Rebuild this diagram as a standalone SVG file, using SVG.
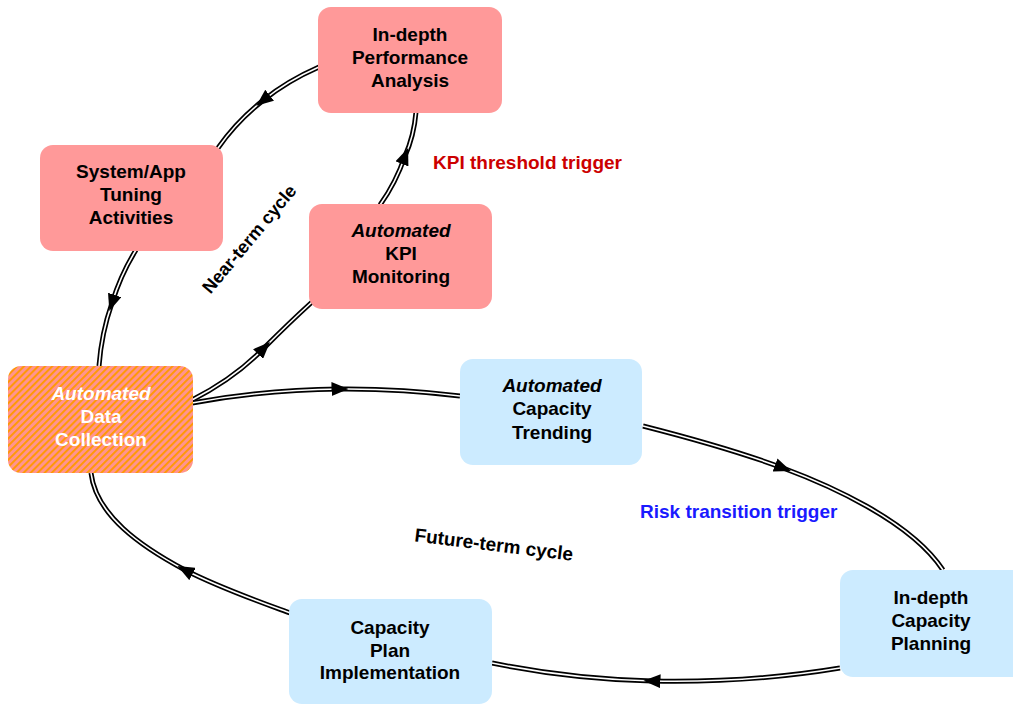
<svg xmlns="http://www.w3.org/2000/svg" width="1013" height="705" viewBox="0 0 1013 705">
<style>
.pink{fill:#FF9999}
.blue{fill:#CCEBFF}
.t{font-family:"Liberation Sans",Arial,sans-serif;font-size:19px;font-weight:bold;text-anchor:middle;fill:#000}
.w{fill:#fff}
.i{font-style:italic}
.outer{fill:none;stroke:#000;stroke-width:5}
.inner{fill:none;stroke:#fff;stroke-width:1.6;marker-mid:url(#arr)}
.lbl{font-family:"Liberation Sans",Arial,sans-serif;font-weight:bold}
</style>
<defs>
<pattern id="hatch" patternUnits="userSpaceOnUse" width="5" height="5" patternTransform="rotate(45)">
<rect width="5" height="5" fill="#FF9490"/>
<rect width="1.9" height="5" fill="#FF9900"/>
</pattern>
<marker id="arr" markerUnits="userSpaceOnUse" markerWidth="17" markerHeight="14" viewBox="0 0 17 14" refX="8.5" refY="7" orient="auto">
<path d="M0,0 L17,7 L0,14 Z" fill="#000"/>
</marker>
</defs>
<rect width="1013" height="705" fill="#fff"/>
<g id="connectors">
<path class="outer" d="M319,67 Q287,81 263,100.5 Q236.5,121.5 218,148"/>
<path class="inner" d="M319,67 Q287,81 263,100.5 Q236.5,121.5 218,148"/>
<path class="outer" d="M136,250 Q121,274 112,303 Q101.5,333 99,366"/>
<path class="inner" d="M136,250 Q121,274 112,303 Q101.5,333 99,366"/>
<path class="outer" d="M192,400 Q235,378 264,348 Q290,322 312,302"/>
<path class="inner" d="M192,400 Q235,378 264,348 Q290,322 312,302"/>
<path class="outer" d="M380,205 Q396,182.5 405,156 Q414,136 416,112"/>
<path class="inner" d="M380,205 Q396,182.5 405,156 Q414,136 416,112"/>
<path class="outer" d="M192,403 Q261,390 340,389 Q400,388.5 460,396"/>
<path class="inner" d="M192,403 Q261,390 340,389 Q400,388.5 460,396"/>
<path class="outer" d="M643,426 C690,438 740,452 783,468 C826,484 910,520 943,570"/>
<path class="inner" d="M643,426 C690,438 740,452 783,468 C826,484 910,520 943,570"/>
<path class="outer" d="M840,668 Q750,683 652,681 Q570,679 492,663"/>
<path class="inner" d="M840,668 Q750,683 652,681 Q570,679 492,663"/>
<path class="outer" d="M290,613 C260,602 220,588 185,570 C140,546 96,515 91,473"/>
<path class="inner" d="M290,613 C260,602 220,588 185,570 C140,546 96,515 91,473"/>
</g>
<g id="perf-analysis">
<rect class="pink" x="318" y="7" width="184" height="106" rx="13"/>
<text class="t" x="410" y="41">In-depth</text>
<text class="t" x="410" y="64">Performance</text>
<text class="t" x="410" y="87">Analysis</text>
</g>
<g id="tuning">
<rect class="pink" x="40" y="145" width="183" height="106" rx="13"/>
<text class="t" x="131" y="178">System/App</text>
<text class="t" x="131" y="201">Tuning</text>
<text class="t" x="131" y="224">Activities</text>
</g>
<g id="kpi-monitoring">
<rect class="pink" x="309" y="204" width="183" height="105" rx="13"/>
<text class="t i" x="401" y="237">Automated</text>
<text class="t" x="401" y="260">KPI</text>
<text class="t" x="401" y="283">Monitoring</text>
</g>
<g id="data-collection">
<rect x="8" y="366" width="185" height="107" rx="13" fill="url(#hatch)"/>
<text class="t w i" x="101" y="400">Automated</text>
<text class="t w" x="101" y="423">Data</text>
<text class="t w" x="101" y="446">Collection</text>
</g>
<g id="capacity-trending">
<rect class="blue" x="460" y="359" width="182" height="106" rx="13"/>
<text class="t i" x="552" y="392">Automated</text>
<text class="t" x="552" y="415">Capacity</text>
<text class="t" x="552" y="439">Trending</text>
</g>
<g id="capacity-planning">
<rect class="blue" x="840" y="570" width="190" height="107" rx="13"/>
<text class="t" x="931" y="604">In-depth</text>
<text class="t" x="931" y="627">Capacity</text>
<text class="t" x="931" y="650">Planning</text>
</g>
<g id="plan-implementation">
<rect class="blue" x="289" y="599" width="203" height="105" rx="13"/>
<text class="t" x="390" y="634">Capacity</text>
<text class="t" x="390" y="657">Plan</text>
<text class="t" x="390" y="679">Implementation</text>
</g>
<g id="labels">
<text class="lbl" x="433" y="169" font-size="19" fill="#CC0000">KPI threshold trigger</text>
<text class="lbl" x="640" y="518" font-size="19" fill="#1A1AFF">Risk transition trigger</text>
<text class="lbl" font-size="18" text-anchor="middle" fill="#000" transform="translate(254,243) rotate(-50)">Near-term cycle</text>
<text class="lbl" font-size="19" text-anchor="middle" fill="#000" transform="translate(493,551) rotate(7)">Future-term cycle</text>
</g>
</svg>
